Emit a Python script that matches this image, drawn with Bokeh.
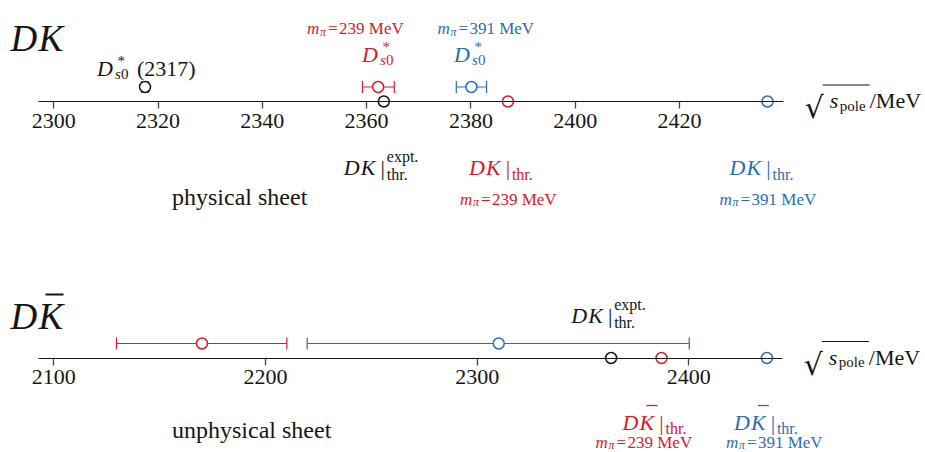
import numpy as np
from bokeh.plotting import figure
from bokeh.models import Range1d, LinearAxis, FixedTicker
from bokeh.core.properties import value
from bokeh.embed import file_html
from bokeh.resources import INLINE

# ---------------- data ----------------
phys_ticks = [2300, 2320, 2340, 2360, 2380, 2400, 2420]
unphys_ticks = [2100, 2200, 2300, 2400]

# physical sheet poles: D*s0(2317) expt, m_pi=239, m_pi=391  (MeV)
phys_pole = [2317.5, 2362.2, 2380.1]
phys_pole_lo = [2316.9, 2359.2, 2377.2]
phys_pole_hi = [2318.1, 2365.3, 2383.0]

# DK thresholds: expt, m_pi=239, m_pi=391
thr = [2363.3, 2387.1, 2436.9]

# unphysical sheet (D Kbar) poles: m_pi=239, m_pi=391
unphys_pole = [2170.0, 2310.2]
unphys_lo = [2129.6, 2219.7]
unphys_hi = [2210.1, 2400.2]

mpi_labels = ["239", "391"]

phys_bounds = (2297.1, 2440.0)
unphys_bounds = (2092.8, 2444.4)

# ---------------- style / layout ----------------
W, H = 925, 452
RED = "#d0202e"
BLUE = "#2b6db3"
BLK = "#151515"
SERIF = "Liberation Serif"
AX_T, ROW_T = 101.0, 86.5
AX_B, ROW_B = 357.5, 343.0

xr_top = Range1d(2289.78, 2467.19)
xr_bot = Range1d(2074.82, 2511.82)
ranges = {"default": xr_top, "bot": xr_bot}

p = figure(width=W, height=H, x_range=xr_top, y_range=Range1d(H, 0),
           x_axis_type=None, y_axis_type=None, toolbar_location=None,
           output_backend="svg", min_border=0, outline_line_color=None,
           background_fill_color="white", border_fill_color="white")
p.extra_x_ranges = {"bot": xr_bot}
p.xgrid.visible = False
p.ygrid.visible = False


def style_axis(ax):
    ax.axis_line_color = BLK
    ax.axis_line_width = 1.2
    ax.major_tick_line_color = "#444444"
    ax.major_tick_line_width = 1.3
    ax.major_tick_out = 7
    ax.major_tick_in = 0
    ax.minor_tick_line_color = None
    ax.major_label_text_font = SERIF
    ax.major_label_text_font_size = "22px"
    ax.major_label_text_color = BLK
    ax.major_label_standoff = 5


ax_t = LinearAxis(ticker=FixedTicker(ticks=phys_ticks), bounds=phys_bounds,
                  fixed_location=AX_T)
ax_b = LinearAxis(ticker=FixedTicker(ticks=unphys_ticks), bounds=unphys_bounds,
                  fixed_location=AX_B, x_range_name="bot")
style_axis(ax_t)
style_axis(ax_b)
p.add_layout(ax_t, "below")
p.add_layout(ax_b, "below")


def shift(x, dpx, rng):
    r = ranges[rng]
    return x + dpx * (r.end - r.start) / W


def T(x, y, s, size, color=BLK, style="normal", dx=0, align="left", rng="default",
      font=SERIF):
    p.text(x=[x], y=[y], text=[s], x_offset=dx, text_font=value(font),
           text_font_size=f"{size}px", text_font_style=style, text_color=color,
           text_align=align, text_baseline="alphabetic", x_range_name=rng)


def hbar(x, dpx0, dpx1, y, color, rng, lw=1.2):
    p.segment(x0=[shift(x, dpx0, rng)], x1=[shift(x, dpx1, rng)], y0=[y], y1=[y],
              line_color=color, line_width=lw, x_range_name=rng)


def mpi_label(x, yb, val, color, m0, rng="default"):
    T(x, yb, "m", 17, color, "italic", m0, rng=rng)
    T(x, yb + 3, "π", 12, color, "italic", m0 + 13, rng=rng)
    T(x, yb, "=", 17, color, "normal", m0 + 21, rng=rng)
    T(x, yb, f"{val} MeV", 17, color, "normal", m0 + 32, rng=rng)


def ds0_label(x, yb, color, d0, rng="default"):
    T(x, yb, "D", 22, color, "italic", d0, rng=rng)
    T(x, yb - 8, "*", 15, color, "normal", d0 + 20.5, rng=rng)
    T(x, yb + 5, "s", 15, color, "italic", d0 + 18, rng=rng)
    T(x, yb + 5, "0", 15, color, "normal", d0 + 24, rng=rng)


def thr_label(x, yb, color, sh=0, expt=False, kbar=False, rng="default"):
    T(x, yb, "D", 22, color, "italic", sh - 39, rng=rng)
    T(x, yb, "K", 22, color, "italic", sh - 22, rng=rng)
    if kbar:
        hbar(x, sh - 15, sh - 4, yb - 16.5, color, rng, lw=1.3)
    T(x, yb, "|", 22, color, "normal", sh, align="center", rng=rng)
    T(x, yb + 6.5, "thr.", 16, color, "normal", sh + 4, rng=rng)
    if expt:
        T(x, yb - 11, "expt.", 16, color, "normal", sh + 4, rng=rng)


def sqrt_label(xa, yb, rng):
    T(xa, yb + 7, "√", 30, BLK, "normal", 21, rng=rng, font="DejaVu Serif")
    hbar(xa, 39, 86, yb - 15.5, BLK, rng, lw=1.1)
    T(xa, yb, "s", 22, BLK, "italic", 46, rng=rng)
    T(xa, yb + 5, "pole", 15, BLK, "normal", 56, rng=rng)
    T(xa, yb, "/MeV", 22, BLK, "normal", 86, rng=rng)


# ---------------- physical sheet (DK) ----------------
cols3 = [BLK, RED, BLUE]
p.segment(x0=phys_pole_lo, x1=phys_pole_hi, y0=[ROW_T] * 3, y1=[ROW_T] * 3,
          line_color=cols3, line_width=1.2)
caps = phys_pole_lo + phys_pole_hi
p.segment(x0=caps, x1=caps, y0=[ROW_T - 6] * 6, y1=[ROW_T + 6] * 6,
          line_color=cols3 * 2, line_width=1.2)
p.scatter(phys_pole, [ROW_T] * 3, marker="circle", size=11, fill_color="white",
          line_color=cols3, line_width=1.5)
p.scatter(thr, [AX_T] * 3, marker="circle", size=11, fill_color="white",
          line_color=cols3, line_width=1.5)

x0t = xr_top.start
T(x0t, 38, "D", 37, BLK, "italic", 10)
T(x0t, 38, "K", 37, BLK, "italic", 38)

# D*s0(2317)
ds0_label(phys_pole[0], 68, BLK, -48)
T(phys_pole[0], 68, "(2317)", 22, BLK, "normal", -8)
# lattice D*s0
ds0_label(phys_pole[1], 54, RED, -16)
ds0_label(phys_pole[2], 54, BLUE, -17.5)
mpi_label(phys_pole[1], 28, mpi_labels[0], RED, -71)
mpi_label(phys_pole[2], 28, mpi_labels[1], BLUE, -34)

sqrt_label(phys_bounds[1], AX_T - 1, "default")

thr_label(thr[0], 167, BLK, sh=-1, expt=True)
thr_label(thr[1], 167, RED)
thr_label(thr[2], 167, BLUE, sh=1)
mpi_label(thr[1], 198.5, mpi_labels[0], RED, -48)
mpi_label(thr[2], 198.5, mpi_labels[1], BLUE, -48)

T(x0t, 196.5, "physical sheet", 24, BLK, "normal", 171.5)

# ---------------- unphysical sheet (D Kbar) ----------------
cols2 = [RED, BLUE]
p.segment(x0=unphys_lo, x1=unphys_hi, y0=[ROW_B] * 2, y1=[ROW_B] * 2,
          line_color=cols2, line_width=1.2, x_range_name="bot")
capsb = unphys_lo + unphys_hi
p.segment(x0=capsb, x1=capsb, y0=[ROW_B - 6] * 4, y1=[ROW_B + 6] * 4,
          line_color=cols2 * 2, line_width=1.2, x_range_name="bot")
p.scatter(unphys_pole, [ROW_B] * 2, marker="circle", size=11, fill_color="white",
          line_color=cols2, line_width=1.5, x_range_name="bot")
p.scatter(thr, [AX_B] * 3, marker="circle", size=11, fill_color="white",
          line_color=cols3, line_width=1.5, x_range_name="bot")

x0b = xr_bot.start
T(x0b, 316, "D", 37, BLK, "italic", 10, rng="bot")
T(x0b, 316, "K", 37, BLK, "italic", 38, rng="bot")
hbar(x0b, 45, 63, 294, BLK, "bot", lw=2.0)

thr_label(thr[0], 315, BLK, sh=-1, expt=True, rng="bot")
sqrt_label(unphys_bounds[1], AX_B - 1, "bot")

thr_label(thr[1], 421.5, RED, sh=0, kbar=True, rng="bot")
thr_label(thr[2], 421.5, BLUE, sh=6, kbar=True, rng="bot")
mpi_label(thr[1], 441.5, mpi_labels[0], RED, -66, rng="bot")
mpi_label(thr[2], 441.5, mpi_labels[1], BLUE, -41, rng="bot")

T(x0b, 429, "unphysical sheet", 24, BLK, "normal", 171.5, rng="bot")

open("out.html", "w").write(file_html(p, INLINE))
